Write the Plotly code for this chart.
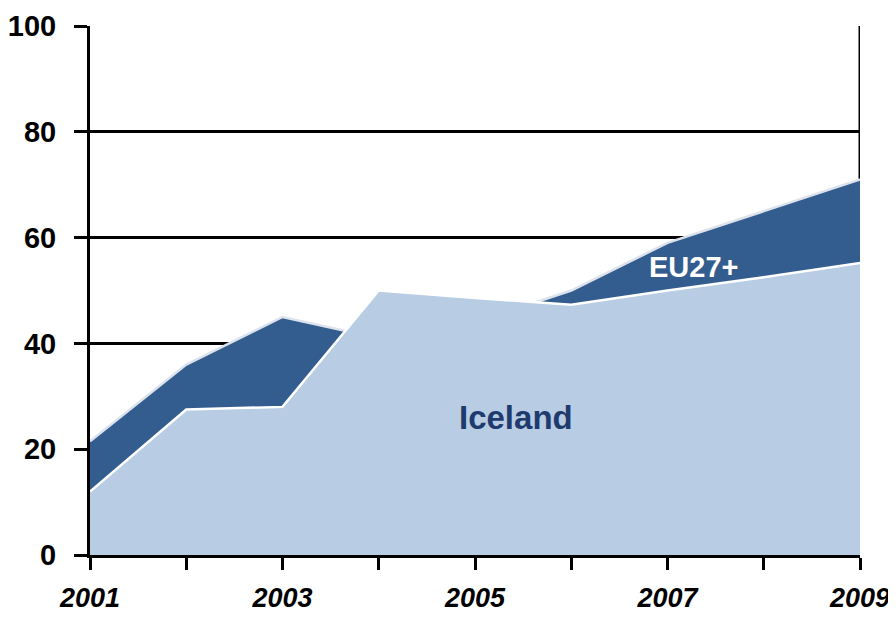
import plotly.graph_objects as go

years = [2001, 2002, 2003, 2004, 2005, 2006, 2007, 2008, 2009]
eu27 = [21.5, 36, 45, 41, 44, 50, 59, 65, 71]
iceland = [12, 27.5, 28, 50, 48.6, 47.3, 50, 52.5, 55.2]
x_tick_text = ["2001", "", "2003", "", "2005", "", "2007", "", "2009"]
y_ticks = [0, 20, 40, 60, 80, 100]

dark = "#345D8F"
light = "#B8CCE4"

fig = go.Figure()
fig.add_trace(go.Scatter(x=years, y=eu27, mode="lines", fill="tozeroy",
                         fillcolor=dark, line=dict(color="#DDE3EC", width=2.5),
                         name="EU27+", showlegend=False, hoverinfo="skip"))
fig.add_trace(go.Scatter(x=years, y=iceland, mode="lines", fill="tozeroy",
                         fillcolor=light, line=dict(color="#FFFFFF", width=2.5),
                         name="Iceland", showlegend=False, hoverinfo="skip"))

fig.add_annotation(x=2005.43, y=25.9, text="<b>Iceland</b>", showarrow=False,
                   font=dict(family="Liberation Sans, Arial", size=33, color="#1F3B6E"))
fig.add_annotation(x=2007.27, y=54.5, text="<b>EU27+</b>", showarrow=False,
                   font=dict(family="Liberation Sans, Arial", size=29, color="#FFFFFF"))

# right border line, only above the areas
fig.add_shape(type="line", xref="x", yref="y", x0=years[-1], x1=years[-1],
              y0=eu27[-1], y1=y_ticks[-1],
              line=dict(color="black", width=3), layer="below")

fig.update_layout(
    width=888, height=609,
    margin=dict(l=82, r=36, t=18, b=62, autoexpand=False),
    paper_bgcolor="white", plot_bgcolor="white",
    font=dict(family="Liberation Sans, Arial", color="black"),
)
fig.update_xaxes(
    range=[2001, 2009], tickvals=years,
    ticktext=["<b><i>%s</i></b>" % t if t else "" for t in x_tick_text],
    ticks="outside", ticklen=12, tickwidth=3, tickcolor="black",
    showline=True, linecolor="black", linewidth=3, showgrid=False,
    zeroline=False, tickfont=dict(size=27, family="Liberation Sans, Arial"),
    ticklabelstandoff=5, layer="above traces", automargin=False,
)
fig.update_yaxes(
    range=[0, 100], tickvals=y_ticks, ticktext=["<b>%d</b>" % v for v in y_ticks],
    ticks="outside", ticklen=13, tickwidth=3, tickcolor="black",
    showline=True, linecolor="black", linewidth=3,
    showgrid=True, gridcolor="black", gridwidth=2.5, zeroline=False,
    tickfont=dict(size=29, family="Liberation Sans, Arial"),
    ticklabelstandoff=12, layer="above traces", automargin=False,
)

fig.write_html("out.html")
